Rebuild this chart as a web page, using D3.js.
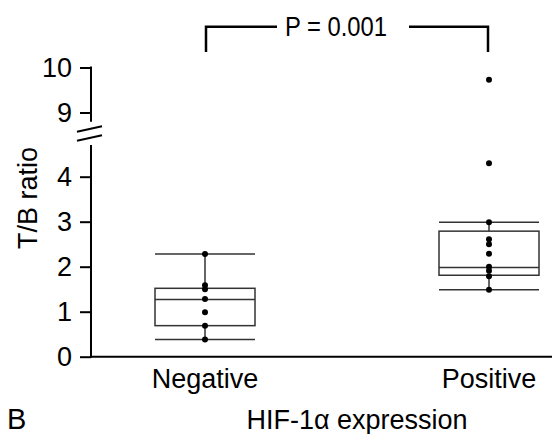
<!DOCTYPE html>
<html>
<head>
<meta charset="utf-8">
<script src="https://cdn.jsdelivr.net/npm/d3@7"></script>
<style>
  body { margin: 0; background: #fff; }
  svg { display: block; }
  text { font-family: "Liberation Sans", Arial, Helvetica, sans-serif; fill: #000; }
</style>
</head>
<body>
<svg width="552" height="434"></svg>
<script>
// Data
const groups = ["Negative", "Positive"];
const negPoints = [2.28, 1.59, 1.50, 1.28, 0.99, 0.69, 0.38];
const posPoints = [9.73, 4.30, 2.99, 2.61, 2.50, 2.29, 2.00, 1.91, 1.79, 1.49];
// [whisker low, q1, median, q3, whisker high]
const negBox = [0.38, 0.69, 1.27, 1.52, 2.28];
const posBox = [1.49, 1.81, 1.98, 2.79, 2.99];
const lowerTicks = [0, 1, 2, 3, 4];
const upperTicks = [9, 10];
const pLabel = "P = 0.001";

const svg = d3.select("svg");
const axisX = 91;

// x: point scale on the group centres
const x = d3.scalePoint().domain(groups).range([205, 489]);
const halfW = 50;

// broken y axis: two linear pieces, same px per unit
const yLow = d3.scaleLinear().domain([0, 4]).range([356.7, 176.7]);
const yHigh = d3.scaleLinear().domain([9, 10]).range([112.5, 67.5]);
const y = v => v >= 8 ? yHigh(v) : yLow(v);

// Axes
const axLow = svg.append("g").attr("transform", `translate(${axisX},0)`)
    .call(d3.axisLeft(yLow).tickValues(lowerTicks).tickSize(11).tickPadding(8).tickFormat(d3.format("d")));
const axHigh = svg.append("g").attr("transform", `translate(${axisX},0)`)
    .call(d3.axisLeft(yHigh).tickValues(upperTicks).tickSize(11).tickPadding(8).tickFormat(d3.format("d")));
[axLow, axHigh].forEach(a => {
    a.select(".domain").remove();
    a.selectAll("line").attr("stroke", "#000").attr("stroke-width", 2);
    a.selectAll("text").style("font-size", "27px").attr("fill", "#000");
});

// axis lines
svg.append("line").attr("x1", axisX).attr("x2", axisX)
    .attr("y1", yLow(0) + 1).attr("y2", 145).attr("stroke", "#000").attr("stroke-width", 2);
svg.append("line").attr("x1", axisX).attr("x2", axisX)
    .attr("y1", yHigh(10) - 1).attr("y2", 121.7).attr("stroke", "#000").attr("stroke-width", 2);
svg.append("line").attr("x1", axisX - 1).attr("x2", 552)
    .attr("y1", yLow(0)).attr("y2", yLow(0)).attr("stroke", "#000").attr("stroke-width", 2);

// break marks
[131.7, 140.7].forEach(yy => {
    svg.append("line").attr("x1", 77).attr("y1", yy).attr("x2", 102).attr("y2", yy - 5.5)
        .attr("stroke", "#000").attr("stroke-width", 2);
});

// Boxes
const boxes = [
    { g: groups[0], s: negBox, pts: negPoints },
    { g: groups[1], s: posBox, pts: posPoints }
];
const bx = svg.selectAll(".box").data(boxes).enter().append("g").attr("class", "box");
const grey = "#333";
bx.append("line").attr("x1", d => x(d.g)).attr("x2", d => x(d.g))
    .attr("y1", d => y(d.s[0])).attr("y2", d => y(d.s[1])).attr("stroke", grey).attr("stroke-width", 1.5);
bx.append("line").attr("x1", d => x(d.g)).attr("x2", d => x(d.g))
    .attr("y1", d => y(d.s[3])).attr("y2", d => y(d.s[4])).attr("stroke", grey).attr("stroke-width", 1.5);
bx.append("rect").attr("x", d => x(d.g) - halfW).attr("width", halfW * 2)
    .attr("y", d => y(d.s[3])).attr("height", d => y(d.s[1]) - y(d.s[3]))
    .attr("fill", "none").attr("stroke", grey).attr("stroke-width", 1.5);
[0, 2, 4].forEach(i => {
    bx.append("line").attr("x1", d => x(d.g) - halfW).attr("x2", d => x(d.g) + halfW)
        .attr("y1", d => y(d.s[i])).attr("y2", d => y(d.s[i])).attr("stroke", grey).attr("stroke-width", 1.5);
});
bx.selectAll("circle").data(d => d.pts.map(v => ({ g: d.g, v }))).enter().append("circle")
    .attr("cx", d => x(d.g)).attr("cy", d => y(d.v)).attr("r", 3).attr("fill", "#000");

// Category labels
svg.selectAll(".cat").data(groups).enter().append("text").attr("class", "cat")
    .attr("x", d => x(d)).attr("y", 388).attr("text-anchor", "middle")
    .style("font-size", "27px").text(d => d);

// Axis titles
svg.append("text").attr("transform", "translate(37,198) rotate(-90)").attr("text-anchor", "middle")
    .style("font-size", "27px").text("T/B ratio");
svg.append("text").attr("x", 357).attr("y", 429).attr("text-anchor", "middle")
    .style("font-size", "27px").text("HIF-1\u03b1 expression");
svg.append("text").attr("x", 7).attr("y", 429).style("font-size", "29px").text("B");

// Significance bracket
const bTop = 26.7, bBot = 52;
svg.append("path")
    .attr("d", `M${x(groups[0]) + 1},${bBot}V${bTop}H277 M409,${bTop}H${x(groups[1]) - 1}V${bBot}`)
    .attr("fill", "none").attr("stroke", "#000").attr("stroke-width", 2.5);
svg.append("text").attr("x", 336).attr("y", 36).attr("text-anchor", "middle")
    .style("font-size", "27px").attr("textLength", 102).attr("lengthAdjust", "spacingAndGlyphs").text(pLabel);
</script>
</body>
</html>
